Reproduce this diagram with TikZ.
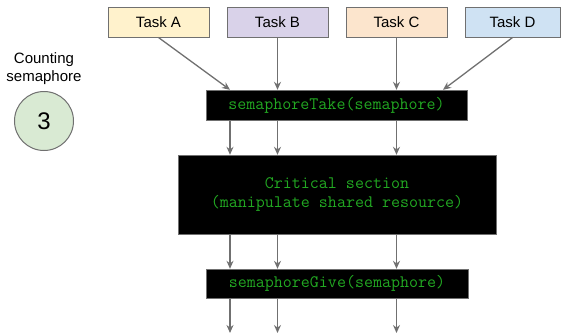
\documentclass[tikz,border=0pt]{standalone}
\usepackage{fontspec}
\setmainfont{Liberation Sans}
\usetikzlibrary{arrows.meta}
\definecolor{fillA}{HTML}{FFF2CC}
\definecolor{fillB}{HTML}{D9D2E9}
\definecolor{fillC}{HTML}{FCE5CD}
\definecolor{fillD}{HTML}{CFE2F3}
\definecolor{fillsem}{HTML}{D9EAD3}
\definecolor{linegray}{HTML}{707070}
\definecolor{codegreen}{HTML}{22A822}
\begin{document}
\begin{tikzpicture}[x=1pt, y=-1pt]
\tikzstyle{every node} = [inner sep=0, font=\fontsize{15}{18}\selectfont]
\tikzstyle{task} = [draw=linegray, line width=1.0, minimum width=101, minimum height=30]
\tikzstyle{code} = [draw=linegray, fill=black, text=codegreen, align=center, font=\ttfamily\fontsize{17.5}{19}\selectfont]
\tikzstyle{flow} = [draw=linegray, line width=1.3, -{Stealth[length=8, width=7]}]
\useasboundingbox (0,0) rectangle (562,333);
\node[] (label) at (44,69) [align=center] {Counting\\semaphore};
\node[circle, draw=linegray, fill=fillsem, line width=1.0, minimum size=59, font=\fontsize{24}{28}\selectfont] (count) at (44,121) {3};
\node[task, fill=fillA] (task_a) at (158.5,22) {Task A};
\node[task, fill=fillB] (task_b) at (277.5,22) {Task B};
\node[task, fill=fillC] (task_c) at (396.5,22) {Task C};
\node[task, fill=fillD, minimum width=95] (task_d) at (512.5,22) {Task D};
\node[code, minimum width=261, minimum height=30] (take) at (336.5,105) {semaphoreTake(semaphore)};
\node[code, minimum width=318, minimum height=79] (crit) at (337,194.5) {Critical section\\(manipulate shared resource)};
\node[code, minimum width=262, minimum height=29] (give) at (337,283.5) {semaphoreGive(semaphore)};
\coordinate (lane_a) at (230,0);
\coordinate (lane_b) at (277.5,0);
\coordinate (lane_c) at (396.5,0);
\coordinate (lane_d) at (443,0);
\coordinate (out_a) at (230,333);
\coordinate (out_b) at (277.5,333);
\coordinate (out_c) at (396.5,333);
\draw[flow] (task_a.south) -- (lane_a |- take.north);
\draw[flow] (task_b.south) -- (lane_b |- take.north);
\draw[flow] (task_c.south) -- (lane_c |- take.north);
\draw[flow] (task_d.south) -- (lane_d |- take.north);
\draw[flow] (lane_a |- take.south) -- (lane_a |- crit.north);
\draw[flow] (lane_b |- take.south) -- (lane_b |- crit.north);
\draw[flow] (lane_c |- take.south) -- (lane_c |- crit.north);
\draw[flow] (lane_a |- crit.south) -- (lane_a |- give.north);
\draw[flow] (lane_b |- crit.south) -- (lane_b |- give.north);
\draw[flow] (lane_c |- crit.south) -- (lane_c |- give.north);
\draw[flow] (lane_a |- give.south) -- (out_a);
\draw[flow] (lane_b |- give.south) -- (out_b);
\draw[flow] (lane_c |- give.south) -- (out_c);
\end{tikzpicture}
\end{document}
